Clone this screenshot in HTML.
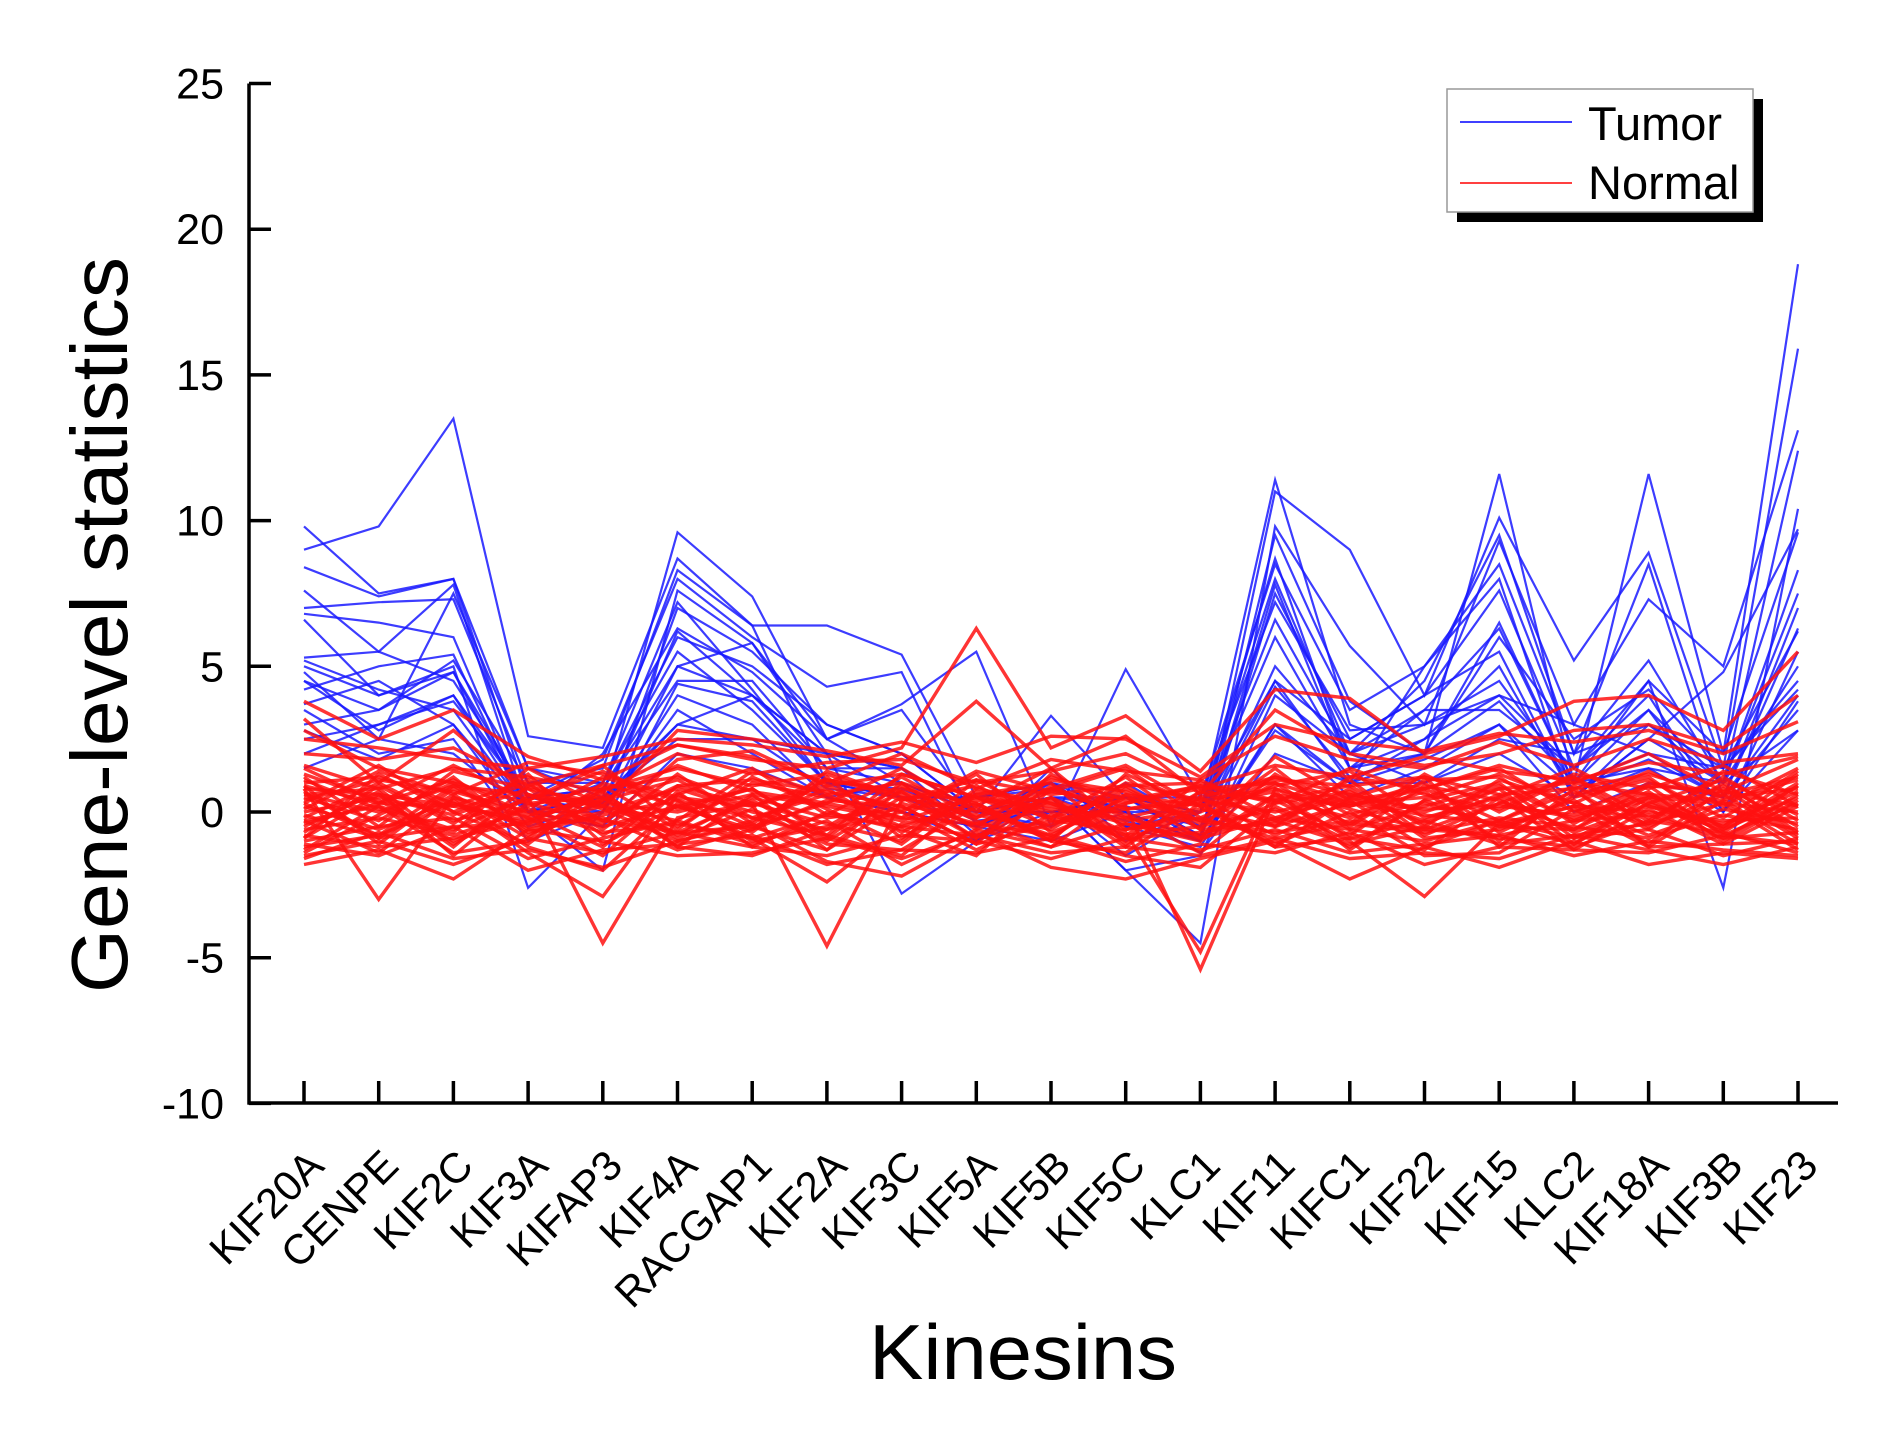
<!DOCTYPE html>
<html><head><meta charset="utf-8"><style>
html,body{margin:0;padding:0;background:#fff;}
svg{display:block;font-family:"Liberation Sans",Arial,sans-serif;}
</style></head><body>
<svg id="chart" width="1890" height="1452" viewBox="0 0 1890 1452" xmlns="http://www.w3.org/2000/svg">
<rect width="1890" height="1452" fill="#fff"/>
<g id="tumor"></g>
<g id="normal"></g>
<g id="axes"></g>
<text transform="translate(127,625) rotate(-90)" text-anchor="middle" font-size="80" textLength="736" lengthAdjust="spacingAndGlyphs">Gene-level statistics</text>
<text x="1023" y="1379" text-anchor="middle" font-size="78" textLength="308" lengthAdjust="spacingAndGlyphs">Kinesins</text>
<g>
<rect x="1457" y="99" width="306" height="123" fill="#000"/>
<rect x="1447" y="89" width="306" height="123" fill="#fff" stroke="#999" stroke-width="1.5"/>
<line x1="1460" y1="122" x2="1572" y2="122" stroke="#4040ff" stroke-width="2"/>
<text x="1588" y="140" font-size="47">Tumor</text>
<line x1="1460" y1="183" x2="1572" y2="183" stroke="#ff4040" stroke-width="2"/>
<text x="1588" y="199" font-size="47">Normal</text>
</g>
</svg>
<script>
const categories=["KIF20A","CENPE","KIF2C","KIF3A","KIFAP3","KIF4A","RACGAP1","KIF2A","KIF3C","KIF5A","KIF5B","KIF5C","KLC1","KIF11","KIFC1","KIF22","KIF15","KLC2","KIF18A","KIF3B","KIF23"];
const yTicks=[25,20,15,10,5,0,-5,-10];
const tumorSeries=[
[9.8,7.5,8,1.5,0.5,9.6,7.4,2.5,1,0,1,0.5,0,11.4,3,2,11.6,1,11.6,2,18.8],
[9,9.8,13.5,2.6,2.2,8.7,6.4,6.4,5.4,0.5,0.8,0,-1,11,9,4,10.1,5.2,8.9,1.5,15.9],
[8.4,7.4,8,0.5,1.8,8,6,4.3,4.8,-0.5,0.5,-2,-4.5,9.8,5.7,3,9.3,3,7.3,5,13.1],
[7.6,5.5,7.8,0,-2,7.6,5.8,2.5,3.7,5.5,-0.5,4.9,0.5,8.5,3.5,5,8.5,2,5.2,1,12.4],
[7,7.2,7.3,1,1,6,5,3,2,0,3.3,0.5,-1,7.5,2.5,4,7.6,1.5,4.5,-2.6,10.4],
[6.6,4,5,-2.6,0,5,4,2,-2.8,-1,1.5,-1,0,6,1.5,3.5,6.3,1,4.5,2,9.6],
[5.3,5.5,4.5,0.5,0.8,4.5,4.5,1.5,1,0,-0.5,1,-0.5,4.5,1,2.5,5,0.5,3,1,8.3],
[5,4,4.8,0,0.5,3,4,2,1.5,-0.8,0.5,-1.5,0,8,2,4.5,9.5,2,8.5,0.5,7],
[4.5,3.5,5.2,1,1.5,8.3,6.4,1,0.5,0.5,1,0,-1,9.5,3.8,2,6,2.5,4.2,1.5,6.2],
[3.7,4.5,3,0,0,7,5.5,3,2,0,0,0.5,0.5,7.2,2.8,3,4.5,1,3.5,0,5.5],
[4.8,2.5,7.5,1.5,1,5.5,3.5,1,0,-0.5,1,-0.5,-1.2,3,1,5,8,0.5,2.5,4.8,9.7],
[6.8,6.5,6,0,2,6.3,4.8,2.5,3.5,0,0,0,0,8.7,1.5,2.5,4,3,2,1.5,4.5],
[2.5,3,4,0.5,0,4,3,0.5,1,-1,0.5,-2,-1.5,4,2,3.5,3.5,1.5,4,0,3.8],
[5.2,4.2,3.5,0,0.5,2.5,2.5,2,0.5,0,0,0.5,0,4.5,2.5,4,5.5,0.5,2.5,1,2.8],
[3.5,2,2.5,-1,0,3.5,2,0.5,0,-0.5,-1,0,-1,3,0.5,1.5,3,0,1,0.5,6.3],
[2,3,3.8,0.5,0.3,6.2,4,1.5,1.5,0,0.5,0.5,-0.8,7.8,1.5,2,6.5,1,1.5,1,7.5],
[4.2,5,5.4,0,1,7.2,4.2,1,0.5,0.5,1,-0.5,0,6.6,2,1,2.5,2,3,1.5,4.2],
[1.5,2.5,2,0,-0.5,2,1.5,0.5,0,-1,0,0,-1.4,2,1,1,2,0.5,1.5,0,2.8],
[3,3.5,4.8,0.5,0.8,5,5.8,2,1.5,0,0.5,0.2,-0.5,5,2,3,4,1.5,3.5,1,5],
[4.5,2.8,4,0,-0.5,4.4,3.8,1,0.8,-0.3,0,0.5,-0.8,4.3,1.2,2,3.8,1,2,0.5,3.5],
[2.8,1.8,3,-0.5,0.3,3,2.5,0.8,0.5,-0.5,0.5,-0.3,-1,2.8,1,1.8,3,0.8,1.8,0.5,4]
];
const normalSeries=[
[0.5,-0.3,1.2,-0.8,0.4,1.1,-0.2,0.6,-0.5,0.3,-0.9,0.8,-0.4,1.0,-0.6,0.2,0.9,-0.3,0.7,-1.0,0.4],
[-0.7,0.9,-0.4,1.3,-1.1,0.2,0.8,-0.9,1.0,-0.6,0.5,-1.2,0.7,-0.3,1.1,-0.8,0.3,1.2,-0.5,0.6,-0.9],
[1.3,0.4,-1.0,0.2,0.9,-0.6,1.2,0.1,-1.1,0.8,0.3,-0.4,-1.0,0.6,0.2,1.0,-0.7,0.5,1.1,-0.2,1.4],
[-1.2,-0.8,0.3,-0.5,-0.2,-1.3,-0.6,0.4,0.2,-1.1,-0.4,0.1,0.3,-1.2,-0.9,-0.3,-1.1,-0.8,-0.4,0.3,-1.3],
[0.1,1.4,0.6,1.7,1.3,0.5,0.2,1.1,0.7,-0.2,1.2,0.4,0.9,0.3,1.5,0.6,0.1,1.3,0.8,1.6,0.2],
[2.8,1.5,1.0,0.3,-0.4,1.8,2.1,0.9,1.3,0.5,-0.2,1.2,-0.6,1.9,0.4,0.8,1.6,1.0,2.0,0.7,1.8],
[-1.5,-1.0,-1.8,-0.9,-1.4,-0.7,-1.2,-1.5,-0.8,-1.0,-1.6,-0.9,-1.3,-0.6,-1.4,-1.1,-0.8,-1.5,-1.0,-1.3,-1.5],
[0.8,-3.0,0.5,-1.2,-2.0,0.3,-0.9,-2.4,-0.4,0.1,-0.8,-1.5,-1.9,0.2,-1.0,-2.9,-0.4,-1.1,0.5,-0.7,0.9],
[3.8,2.5,3.5,1.9,1.1,2.3,1.8,1.5,2.2,6.3,2.2,3.3,1.4,4.2,3.9,2.0,2.6,3.8,4.0,2.8,5.5],
[3.2,1.0,2.8,0.6,0.2,2.8,2.5,2.1,1.6,3.8,1.5,2.6,0.6,3.5,2.0,1.6,2.0,2.8,3.0,2.2,4.0],
[-0.3,0.2,-0.6,0.5,-4.5,-0.2,0.3,-4.6,0.4,0.9,-0.3,0.2,-5.4,0.5,-0.2,0.3,-0.5,0.2,-0.8,0.1,-0.4],
[0.2,-0.6,0.4,-1.4,-2.9,0.6,-0.5,-1.3,0.3,-0.4,0.5,-0.7,-4.8,0.8,0.1,-0.6,0.3,-0.2,0.4,-0.9,0.6],
[-0.9,0.6,-1.2,0.9,0.1,-1.0,-0.3,0.8,-0.7,0.6,1.0,-1.1,0.5,-0.8,0.4,-1.2,-0.3,0.7,-0.6,1.0,-0.7],
[0.9,-1.1,0.8,-0.2,1.2,0.4,-1.0,-0.5,0.9,-0.3,-1.2,0.6,0.2,0.7,-1.3,0.4,1.0,-0.9,0.3,-0.5,1.0],
[-0.4,0.3,0.2,-0.3,0.6,-0.8,0.5,-0.2,0.1,0.4,0.2,-0.3,0.1,-0.5,0.3,-0.1,-0.4,0.2,0.0,-0.3,-0.2],
[1.6,0.8,1.5,1.2,0.7,2.0,1.3,1.7,1.8,1.0,1.4,2.0,0.8,1.6,1.2,1.9,1.4,1.1,1.7,1.3,1.9],
[-1.8,-1.3,-2.3,-0.6,-1.0,-1.5,-1.4,-0.9,-1.6,-0.7,-1.9,-2.3,-1.6,-1.0,-2.3,-1.2,-1.9,-1.0,-1.8,-1.4,-1.6],
[0.0,0.5,-0.1,0.8,0.3,0.0,0.6,0.2,-0.3,0.5,0.1,-0.2,0.4,0.0,0.6,0.1,0.2,-0.1,0.5,0.3,0.0],
[-0.6,-0.2,-0.8,0.1,-0.7,-0.4,-0.9,-0.1,-0.5,-0.8,-0.3,-0.6,-0.2,-0.9,-0.4,-0.7,-0.2,-0.5,-0.9,-0.1,-0.6],
[1.0,1.2,0.3,-0.4,0.8,1.5,0.9,1.3,0.4,1.1,0.6,0.9,1.0,0.4,0.9,1.2,0.6,0.8,1.3,0.5,0.8],
[2.0,1.8,2.2,0.9,1.6,2.3,1.9,1.0,2.0,0.8,1.8,1.4,1.1,2.6,1.8,1.5,2.4,1.6,2.5,1.7,2.0],
[-1.1,-1.5,-0.5,-2.0,-1.3,-1.1,-0.8,-1.8,-1.3,-1.4,-0.9,-1.7,-1.1,-1.4,-0.7,-1.8,-1.2,-1.3,-1.4,-0.8,-1.1],
[0.6,0.0,0.9,-0.6,0.0,0.8,0.0,-0.6,0.7,-0.9,0.9,-0.2,-0.8,0.3,0.7,-0.4,0.6,-0.7,0.2,-0.4,0.7],
[-0.2,1.0,-0.3,0.4,1.6,-0.5,1.0,0.5,-0.2,1.3,-0.7,0.3,0.9,-0.5,1.2,0.8,-0.3,0.9,-0.3,1.2,-0.3],
[1.2,-0.5,1.4,0.8,-0.6,1.3,-0.4,1.1,0.6,-0.5,1.1,0.7,-0.3,1.5,-0.5,1.1,1.2,-0.4,1.0,0.6,1.2],
[-1.3,0.2,-1.4,-1.0,0.5,-0.9,0.1,-1.1,-1.3,0.2,-1.0,-1.4,0.3,-1.1,0.0,-1.5,-1.4,0.1,-1.2,-1.1,-1.0],
[0.3,1.6,0.0,1.0,-0.8,0.6,1.5,-0.1,1.2,-0.2,0.7,1.5,-0.2,0.9,1.4,-0.2,0.5,1.5,0.2,-0.6,0.5],
[-0.8,-1.2,-0.9,-0.3,0.7,-1.2,-1.5,-0.6,0.0,-1.3,-0.1,-0.9,-0.7,-0.3,-1.1,-0.5,-0.9,-1.2,-0.3,-0.7,-1.4],
[2.5,2.2,1.8,1.5,1.9,2.5,2.3,1.9,2.4,1.7,2.6,2.5,1.2,3.0,2.4,2.1,2.7,2.4,2.8,2.0,3.1],
[0.7,-0.9,0.6,-0.9,1.0,0.2,-0.7,1.2,-0.9,0.7,0.3,-0.8,0.7,0.4,-0.8,0.9,0.4,-0.6,0.9,-0.8,0.3],
[-0.5,0.7,-1.5,0.6,-0.3,-0.7,0.4,-1.0,0.5,-0.1,-0.6,0.9,-0.6,-0.4,0.8,-0.9,-0.6,0.4,-1.1,0.8,-0.8],
[1.5,0.3,1.1,-0.1,0.4,1.6,0.7,0.3,1.5,0.0,0.8,1.6,0.2,1.2,0.3,0.5,1.3,0.3,1.4,0.2,1.5],
[-1.0,-0.5,-0.2,-1.6,-0.9,-0.3,-1.1,-0.3,-1.8,-0.6,-1.2,-0.4,-0.9,-0.2,-0.6,-1.0,-0.3,-0.9,-0.6,-1.5,-0.9],
[0.4,1.1,0.7,0.0,-1.2,0.9,1.1,0.7,0.2,-1.1,1.3,0.1,0.5,1.2,0.6,0.0,0.8,1.0,0.6,0.4,1.1],
[-1.6,-0.7,-1.6,-1.3,-1.9,-1.0,-0.4,-1.7,-2.2,-0.8,-1.4,-1.2,-1.5,-0.9,-1.6,-1.4,-1.6,-0.8,-1.3,-1.8,-1.2],
[0.9,0.3,1.6,0.4,1.4,0.1,0.8,-0.8,1.3,0.5,-0.5,1.0,0.4,0.8,-0.4,1.3,0.0,1.2,-0.2,0.9,-0.5],
[0.3,-0.8,0.9,0.6,-0.5,0.2,-0.6,1.4,0.5,-0.9,0.4,-1.0,1.1,-0.2,0.5,-0.3,0.8,-1.1,0.3,1.1,-0.1],
[-0.9,1.3,0.0,-1.1,0.8,1.2,0.3,-0.4,-1.0,1.1,-0.2,0.6,-0.9,1.3,-0.1,0.7,-1.0,0.6,1.2,-0.6,0.9],
[1.1,0.1,-0.7,1.5,0.2,-0.3,1.4,0.6,1.0,0.2,1.5,-0.6,0.0,1.1,0.9,-0.5,1.1,0.3,-0.4,1.4,0.6],
[-0.3,-1.4,0.5,-0.2,-1.5,0.7,-1.2,0.0,-0.6,-1.5,0.8,-0.1,-1.4,0.6,-0.9,-1.3,0.5,-1.3,0.1,-1.1,0.2],
[0.6,0.8,-1.1,0.3,0.5,-1.2,0.6,-1.3,0.8,0.3,-1.0,1.3,0.2,-1.2,0.5,1.2,-1.2,0.8,-1.2,0.4,-1.1],
[-1.4,-0.1,1.0,-0.7,-0.1,0.4,-0.2,-0.8,-1.5,0.6,0.0,-0.8,-0.5,0.1,-1.2,0.4,-0.5,-0.6,0.6,-0.5,1.3],
[0.8,0.6,0.2,1.1,-0.3,0.9,0.2,0.9,0.0,1.4,0.7,0.3,0.8,1.0,0.2,0.8,1.5,0.0,0.9,0.7,0.2],
[-0.1,-0.9,-0.5,-0.4,0.2,-0.7,-0.5,0.3,-0.2,-0.4,-0.8,0.5,-0.3,-0.7,-0.3,-0.6,-0.8,-0.3,-0.1,-0.9,-0.7]
];
const NS="http://www.w3.org/2000/svg";
const X0=304, XSTEP=74.7, Y0=812, YUNIT=29.14, AXL=249, AXB=1103, AXR=1838, AXT=83.5;
function xPos(i){return X0+i*XSTEP;}
function yPos(v){return Y0-v*YUNIT;}
function mk(tag,attrs,parent){const e=document.createElementNS(NS,tag);for(const k in attrs)e.setAttribute(k,attrs[k]);parent.appendChild(e);return e;}
function drawSeries(list,g,color,w,name){
  list.forEach(function(vals,si){
    const d=vals.map(function(v,i){return (i?'L':'M')+xPos(i).toFixed(1)+' '+yPos(v).toFixed(1);}).join(' ');
    const p=mk('path',{d:d,fill:'none',stroke:color,'stroke-width':w,'stroke-linejoin':'miter','stroke-opacity':0.85},g);
    
    
  });
}
drawSeries(tumorSeries,document.getElementById('tumor'),'#1a1aff',2.2,'tumor');
drawSeries(normalSeries,document.getElementById('normal'),'#ff1010',3.4,'normal');
const ax=document.getElementById('axes');
const yl=mk('line',{x1:AXL,y1:AXT,x2:AXL,y2:AXB+1.5,stroke:'#000','stroke-width':3.5},ax);


const xl=mk('line',{x1:AXL-1.5,y1:AXB,x2:AXR,y2:AXB,stroke:'#000','stroke-width':3.5},ax);


yTicks.forEach(function(v){
  const y=yPos(v);
  const t=mk('line',{x1:AXL,y1:y,x2:AXL+22,y2:y,stroke:'#000','stroke-width':3.5},ax);
  
  
  const lb=mk('text',{x:224,y:y+15,'text-anchor':'end','font-size':43},ax);
  lb.textContent=String(v);
  
  
});
categories.forEach(function(c,i){
  const x=xPos(i);
  const t=mk('line',{x1:x,y1:AXB,x2:x,y2:AXB-22,stroke:'#000','stroke-width':3.5},ax);
  
  
  const lb=mk('text',{transform:'translate('+(x+22)+',1168) rotate(-45)','text-anchor':'end','font-size':42},ax);
  lb.textContent=c;
  
  
});
</script>
</body></html>
